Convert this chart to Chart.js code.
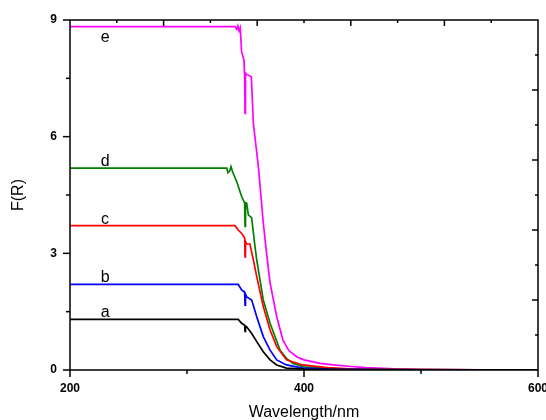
<!DOCTYPE html>
<html>
<head>
<meta charset="utf-8">
<script src="https://cdn.jsdelivr.net/npm/chart.js@4.4.0/dist/chart.umd.min.js"></script>
<style>
  html, body { margin: 0; padding: 0; background: #fff; }
  #wrap { width: 546px; height: 420px; }
</style>
</head>
<body>
<div id="wrap"><canvas id="frChart"></canvas></div>
<script>
// F(R) spectra, samples a-e
const curveNames = ["a", "b", "c", "d", "e"];
const curveColors = ["#000000", "#0000ff", "#ff0000", "#008000", "#ff00ff"];

const waveA = [200, 343.8, 346.7, 349.3, 349.6, 350, 351, 355.3, 359.6, 365.2, 371, 376.7, 385, 400, 450, 600];
const valA  = [1.3, 1.3, 1.2, 1.15, 0.99, 1.13, 1.11, 0.94, 0.73, 0.47, 0.26, 0.13, 0.05, 0.02, 0.005, 0];

const waveB = [200, 343.8, 346.7, 349.3, 349.6, 350, 351, 355.3, 359.6, 365.2, 371, 376.7, 385, 399, 420, 500, 600];
const valB  = [2.2, 2.2, 2.06, 2.0, 1.67, 1.95, 1.88, 1.8, 1.37, 0.86, 0.51, 0.26, 0.13, 0.05, 0.02, 0.005, 0];

const waveC = [200, 341, 343.8, 346.7, 349.3, 349.6, 350, 351, 353.8, 356.7, 359.6, 365.2, 371, 376.7, 385, 399, 420, 439, 500, 600];
const valC  = [3.71, 3.71, 3.6, 3.51, 3.4, 2.91, 3.3, 3.24, 3.24, 2.83, 2.4, 1.63, 1.03, 0.6, 0.26, 0.13, 0.06, 0.03, 0.01, 0];

const waveD = [200, 334, 335, 336.5, 337.6, 339, 342.5, 346.7, 349.3, 349.6, 350, 351, 352.4, 355.3, 358, 359.6, 365.2, 371, 379.5, 385, 390.6, 400, 430, 500, 600];
const valD  = [5.19, 5.19, 5.07, 5.12, 5.23, 5.09, 4.84, 4.46, 4.29, 3.69, 4.3, 4.29, 3.99, 3.91, 3.2, 2.83, 1.8, 1.2, 0.51, 0.3, 0.17, 0.08, 0.03, 0.01, 0];

const waveE = [200, 341, 342.5, 343.5, 344.5, 345.5, 346.7, 348.7, 349.3, 349.6, 350, 351, 355, 356.7, 361, 365.2, 368, 371, 376.7, 382, 387, 393.7, 400, 413.7, 425, 440, 453, 482, 500, 550, 600];
const valE  = [8.83, 8.83, 8.76, 8.85, 8.72, 8.8, 8.18, 7.97, 7.5, 6.6, 7.64, 7.6, 7.54, 6.35, 5.23, 3.78, 3.0, 2.24, 1.37, 0.77, 0.5, 0.34, 0.26, 0.17, 0.13, 0.09, 0.06, 0.025, 0.015, 0.005, 0];

const waves = [waveA, waveB, waveC, waveD, waveE];
const vals = [valA, valB, valC, valD, valE];

// axis ticks (left/bottom labelled, top/right mirrored frame ticks)
const xMajor = [200, 400, 600];
const xMinor = [300, 500];
const yMajor = [0, 3, 6, 9];
const yMinor = [1.5, 4.5, 7.5];
const topMajor = [280, 360, 440, 520];
const topMinor = [240, 320, 400, 480, 560];
const rightMajor = [1.8, 3.6, 5.4, 7.2];
const rightMinor = [0.9, 2.7, 4.5, 6.3, 8.1];

const labelWave = 230;

const datasets = curveNames.map((name, i) => ({
  label: name,
  data: waves[i].map((w, j) => ({ x: w, y: vals[i][j] })),
  borderColor: curveColors[i],
  backgroundColor: curveColors[i],
  borderWidth: 1.7,
  pointRadius: 0,
  tension: 0
}));

// frame + tick marks like the origin plot
const frameTicks = {
  id: "frameTicks",
  afterDraw(chart) {
    const { ctx, chartArea: a, scales: { x, y } } = chart;
    ctx.save();
    ctx.strokeStyle = "#000";
    ctx.lineWidth = 1.5;
    ctx.strokeRect(a.left, a.top, a.right - a.left, a.bottom - a.top);
    const line = (x1, y1, x2, y2) => {
      ctx.beginPath();
      ctx.moveTo(x1, y1);
      ctx.lineTo(x2, y2);
      ctx.stroke();
    };
    xMajor.forEach(v => { const p = x.getPixelForValue(v); line(p, a.bottom, p, a.bottom + 7); });
    xMinor.forEach(v => { const p = x.getPixelForValue(v); line(p, a.bottom, p, a.bottom + 4); });
    yMajor.forEach(v => { const p = y.getPixelForValue(v); line(a.left - 7, p, a.left, p); });
    yMinor.forEach(v => { const p = y.getPixelForValue(v); line(a.left - 4, p, a.left, p); });
    topMajor.forEach(v => { const p = x.getPixelForValue(v); line(p, a.top, p, a.top + 6); });
    topMinor.forEach(v => { const p = x.getPixelForValue(v); line(p, a.top, p, a.top + 3); });
    rightMajor.forEach(v => { const p = y.getPixelForValue(v); line(a.right - 6, p, a.right, p); });
    rightMinor.forEach(v => { const p = y.getPixelForValue(v); line(a.right - 3, p, a.right, p); });
    ctx.restore();
  }
};

// curve letters a-e
const curveLabels = {
  id: "curveLabels",
  afterDatasetsDraw(chart) {
    const { ctx, scales: { x, y } } = chart;
    ctx.save();
    ctx.fillStyle = "#000";
    ctx.font = "16px 'Liberation Sans', Arial, sans-serif";
    ctx.textAlign = "center";
    ctx.textBaseline = "alphabetic";
    curveNames.forEach((name, i) => {
      const px = x.getPixelForValue(labelWave);
      const py = y.getPixelForValue(vals[i][0]);
      ctx.fillText(name, px, name === "e" ? py + 15 : py - 2);
    });
    ctx.restore();
  }
};

new Chart(document.getElementById("frChart"), {
  type: "line",
  data: { datasets: datasets },
  options: {
    responsive: true,
    maintainAspectRatio: false,
    animation: false,
    layout: { padding: { top: 20, right: 8, left: 0, bottom: 0 } },
    plugins: {
      legend: { display: false },
      tooltip: { enabled: false }
    },
    scales: {
      x: {
        type: "linear",
        min: 200,
        max: 600,
        afterBuildTicks: (s) => { s.ticks = xMajor.map(v => ({ value: v })); },
        afterFit: (s) => { s.height = 50; s.paddingLeft = 0; s.paddingRight = 0; },
        grid: { display: false },
        border: { display: false },
        ticks: {
          color: "#000",
          padding: 3,
          maxRotation: 0,
          font: { family: "'Liberation Sans', Arial, sans-serif", size: 12, weight: "bold" }
        },
        title: {
          display: true,
          text: "Wavelength/nm",
          color: "#000",
          padding: { top: 0, bottom: -2 },
          font: { family: "'Liberation Sans', Arial, sans-serif", size: 16 }
        }
      },
      y: {
        min: 0,
        max: 9,
        afterBuildTicks: (s) => { s.ticks = yMajor.map(v => ({ value: v })); },
        afterFit: (s) => { s.width = 70; s.paddingTop = 0; s.paddingBottom = 0; },
        grid: { display: false },
        border: { display: false },
        ticks: {
          color: "#000",
          padding: 5,
          font: { family: "'Liberation Sans', Arial, sans-serif", size: 12, weight: "bold" }
        },
        title: {
          display: true,
          text: "F(R)",
          color: "#000",
          padding: { top: 9, bottom: 0 },
          font: { family: "'Liberation Sans', Arial, sans-serif", size: 16 }
        }
      }
    }
  },
  plugins: [frameTicks, curveLabels]
});
</script>
</body>
</html>
